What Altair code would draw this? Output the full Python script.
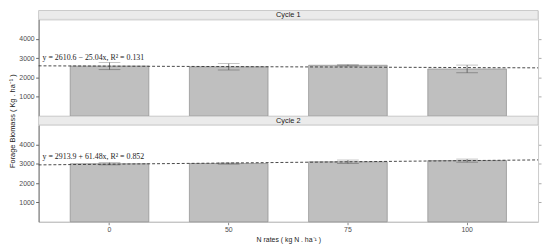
import altair as alt
import pandas as pd

# ---- data ----
rates = ["0", "50", "75", "100"]
cycles = ["Cycle 1", "Cycle 2"]
mean_c1 = [2590, 2550, 2630, 2440]
se_c1 = [190, 165, 35, 200]
mean_c2 = [3000, 3010, 3100, 3160]
se_c2 = [60, 30, 90, 80]
intercepts = [2610.6, 2913.9]
slopes = [-25.04, 61.48]
eq_text = ["y = 2610.6 \u2212 25.04x, R\u00b2 = 0.131",
           "y = 2913.9 + 61.48x, R\u00b2 = 0.852"]
eq_y = [3000, 3320]
y_ticks = [1000, 2000, 3000, 4000]

# ---- layout ----
W = 506
H = 98
HH = 9
PI, PO = 0.34, 0.265
edge = PO + (1 - PI) / 2
x_left = 1 - edge
x_right = len(rates) + edge

FONT = "Liberation Sans"


def header(label):
    hdf = pd.DataFrame({"label": [label]})
    rect = alt.Chart(hdf).mark_rect(fill="#ebebeb", stroke="#b3b3b3", strokeWidth=0.6).encode(
        x=alt.value(0), x2=alt.value(W), y=alt.value(0), y2=alt.value(HH))
    txt = alt.Chart(hdf).mark_text(fontSize=7.5, font=FONT, color="#1a1a1a", baseline="middle").encode(
        x=alt.value(W / 2), y=alt.value(HH / 2 + 0.5), text="label:N")
    return alt.layer(rect, txt).properties(width=W, height=HH)


def panel(i, means, ses, show_x):
    df = pd.DataFrame({
        "rate": rates,
        "mean": means,
        "lo": [m - s for m, s in zip(means, ses)],
        "hi": [m + s for m, s in zip(means, ses)],
    })
    ldf = pd.DataFrame({
        "yl": [intercepts[i] + slopes[i] * x_left],
        "yr": [intercepts[i] + slopes[i] * x_right],
        "txt": [eq_text[i]],
        "ty": [eq_y[i]],
    })
    yscale = alt.Scale(domain=[0, 5000], nice=False, zero=False)
    xscale = alt.Scale(paddingInner=PI, paddingOuter=PO)
    if show_x:
        xaxis = alt.Axis(labelAngle=0, labelFontSize=7, labelColor="#4d4d4d", tickSize=3,
                         tickColor="#888", domainColor="#bbb", labelPadding=1,
                         title="N rates ( kg N . ha\u207b\u00b9 )", titleFontSize=7,
                         titleFontWeight="normal", titleColor="#222", titlePadding=3)
    else:
        xaxis = None
    xenc = alt.X("rate:N", sort=rates, scale=xscale, axis=xaxis)

    left_axis_args = dict(values=y_ticks, format="d", labelFontSize=7, labelColor="#4d4d4d", tickSize=3,
                          tickColor="#666", domainColor="#666", labelPadding=1.5, grid=False)
    if i == 0:
        left_axis = alt.Axis(title="Forage Biomass ( Kg . ha\u207b\u00b9 )", titleFontSize=7.5,
                             titleFontWeight="normal", titleColor="#222", titlePadding=2,
                             titleY=H + HH / 2, **left_axis_args)
    else:
        left_axis = alt.Axis(title=None, **left_axis_args)

    bars = alt.Chart(df).mark_bar(fill="#bfbfbf", stroke="#7f7f7f", strokeWidth=0.6).encode(
        x=xenc, y=alt.Y("mean:Q", scale=yscale, axis=left_axis))
    err = alt.Chart(df).mark_rule(color="#444", strokeWidth=0.7).encode(
        x=xenc, y=alt.Y("lo:Q", scale=yscale, axis=None), y2="hi:Q")
    cap_lo = alt.Chart(df).mark_tick(orient="horizontal", size=22, thickness=0.7, color="#555").encode(
        x=xenc, y=alt.Y("lo:Q", scale=yscale, axis=None))
    cap_hi = alt.Chart(df).mark_tick(orient="horizontal", size=22, thickness=0.7, color="#888").encode(
        x=xenc, y=alt.Y("hi:Q", scale=yscale, axis=None))
    line = alt.Chart(ldf).mark_rule(color="#333", strokeWidth=0.9, strokeDash=[3, 2]).encode(
        x=alt.value(0), x2=alt.value(W),
        y=alt.Y("yl:Q", scale=yscale,
                axis=alt.Axis(orient="right", values=y_ticks, labels=False, title=None, tickSize=3,
                              tickColor="#aaa", domainColor="#ccc", grid=False)),
        y2="yr:Q")
    text = alt.Chart(ldf).mark_text(align="left", baseline="middle", font="Liberation Serif",
                                    fontSize=8, color="#222").encode(
        x=alt.value(4), y=alt.Y("ty:Q", scale=yscale, axis=None), text="txt:N")
    return alt.layer(bars, err, cap_lo, cap_hi, line, text).resolve_axis(y="independent").properties(
        width=W, height=H)


chart = alt.vconcat(
    header(cycles[0]),
    panel(0, mean_c1, se_c1, False),
    header(cycles[1]),
    panel(1, mean_c2, se_c2, True),
    spacing=0,
    bounds="flush",
).properties(
    padding={"left": 0, "top": 0, "right": 0, "bottom": 0}
).configure_view(stroke=None).configure(font=FONT)

chart.save("out.html", embed_options={"renderer": "svg", "actions": False})
